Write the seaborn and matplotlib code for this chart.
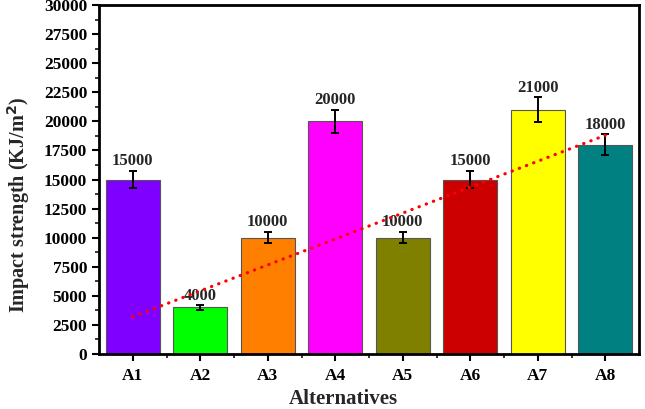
import numpy as np
import pandas as pd
import matplotlib
matplotlib.use("Agg")
import matplotlib.pyplot as plt
from matplotlib.ticker import MultipleLocator
import seaborn as sns

# chart values
categories = ["A1", "A2", "A3", "A4", "A5", "A6", "A7", "A8"]
strength = [15000, 4000, 10000, 20000, 10000, 15000, 21000, 18000]
errors = [750, 200, 500, 1000, 500, 750, 1050, 900]
bar_colors = ["#8000FF", "#00FF00", "#FF8000", "#FF00FF",
              "#808000", "#CC0000", "#FFFF00", "#008080"]
trend_ends = ["A1", "A8"]
trend_vals = [3200, 18800]

sns.set_theme(style="ticks")
plt.rcParams["font.family"] = ["Liberation Serif", "DejaVu Serif"]
plt.rcParams["font.weight"] = "bold"

df = pd.DataFrame({"alt": categories, "val": strength})

fig = plt.figure(figsize=(6.45, 4.09), dpi=100)
ax = fig.add_axes([99 / 645, 1 - 354 / 409, 540 / 645, 349 / 409])

sns.barplot(data=df, x="alt", y="val", hue="alt", palette=bar_colors,
            width=0.8, edgecolor="#555555", linewidth=0.8, legend=False,
            saturation=1, ax=ax)

pos = np.arange(len(categories))
ax.errorbar(pos, strength, yerr=errors, fmt="none", ecolor="black",
            elinewidth=1.4, capsize=2.8, capthick=1.4, zorder=5)

for x, v, e in zip(pos, strength, errors):
    ax.annotate(f"{v}", (x, v + e), xytext=(0, 1), textcoords="offset points",
                ha="center", va="bottom", fontsize=12, fontweight="bold")

# dotted red trend line
tx = [categories.index(c) for c in trend_ends]
ax.plot(tx, trend_vals, color="red", linestyle=(0, (0.1, 2.3)),
        dash_capstyle="round", linewidth=2.3, zorder=6)

ax.set_xlim(-0.5, 7.5)
ax.set_ylim(0, 30000)
ax.yaxis.set_major_locator(MultipleLocator(2500))
ax.yaxis.set_minor_locator(MultipleLocator(1250))
ax.set_xticks(pos)
ax.set_xticks(pos[:-1] + 0.5, minor=True)

for s in ax.spines.values():
    s.set_visible(True)
    s.set_linewidth(2)
    s.set_color("black")

ax.tick_params(axis="both", which="major", direction="out", length=5,
               width=1.5, labelsize=12.5, colors="black")
ax.tick_params(axis="both", which="minor", direction="out", length=3,
               width=1.3)
ax.tick_params(axis="x", pad=5)
for lab in ax.get_xticklabels() + ax.get_yticklabels():
    lab.set_fontweight("bold")

ax.set_xlabel("Alternatives", fontsize=15, fontweight="bold")
ax.set_ylabel("Impact strength (KJ/m$^\\mathbf{2}$)", fontsize=14.5,
              fontweight="bold")
ax.xaxis.set_label_coords(0.452, -0.10)
ax.yaxis.set_label_coords(-0.124, 0.426)

fig.savefig("out.png", dpi=100)
